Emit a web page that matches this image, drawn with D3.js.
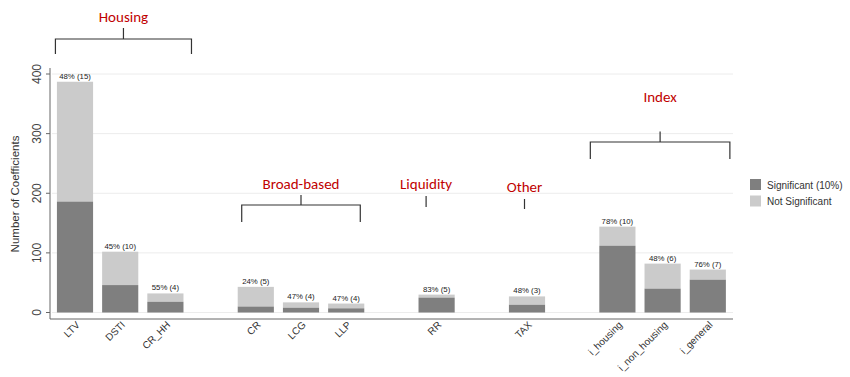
<!DOCTYPE html>
<html>
<head>
<meta charset="utf-8">
<script src="https://cdn.jsdelivr.net/npm/d3@7"></script>
<style>
  body { margin: 0; background: #fff; }
  svg { display: block; font-family: "Liberation Sans", Arial, sans-serif; }
</style>
</head>
<body>
<svg id="chart" width="850" height="377"></svg>
<script>
// ---- data ----
var categories = ["LTV", "DSTI", "CR_HH", "CR", "LCG", "LLP", "RR", "TAX", "i_housing", "i_non_housing", "i_general"]
var groups = ["Housing", "Housing", "Housing", "Broad-based", "Broad-based", "Broad-based", "Liquidity", "Other", "Index", "Index", "Index"]
var significant = [186, 46, 18, 10, 8, 7, 25, 13, 112, 40, 55]
var totals = [387, 102, 32, 43, 17, 15, 30, 27, 144, 82, 72]
var barLabels = ["48% (15)", "45% (10)", "55% (4)", "24% (5)", "47% (4)", "47% (4)", "83% (5)", "48% (3)", "78% (10)", "48% (6)", "76% (7)"]
var yTicks = [0, 100, 200, 300, 400]
var seriesNames = ["Significant (10%)", "Not Significant"]

var darkGrey = "#7f7f7f"
var lightGrey = "#cbcbcb"
var red = "#c00000"

// build the x domain: one empty slot between groups
var domain = []
categories.forEach(function(c, i){
    if (i > 0 && groups[i] != groups[i-1]) domain.push("gap" + i)
    domain.push(c)
})

var svg = d3.select("#chart")

var x = d3.scaleBand().domain(domain).range([52.4, 730.4]).paddingInner(0.2).paddingOuter(0.1)
var y = d3.scaleLinear().domain([0, 400]).range([312.5, 74])

// gridlines
svg.append("g").selectAll("line").data(yTicks).enter().append("line")
    .attr("x1", 52).attr("x2", 733)
    .attr("y1", d => y(d)).attr("y2", d => y(d))
    .attr("stroke", "#ececec").attr("stroke-width", 1)

// bars
var rows = categories.map(function(c, i){
    return {cat: c, sig: significant[i], total: totals[i], label: barLabels[i]}
})
var bars = svg.append("g")
bars.selectAll(".notsig").data(rows).enter().append("rect")
    .attr("x", d => x(d.cat)).attr("width", x.bandwidth())
    .attr("y", d => y(d.total)).attr("height", d => y(d.sig) - y(d.total))
    .attr("fill", lightGrey)
bars.selectAll(".sig").data(rows).enter().append("rect")
    .attr("x", d => x(d.cat)).attr("width", x.bandwidth())
    .attr("y", d => y(d.sig)).attr("height", d => y(0) - y(d.sig))
    .attr("fill", darkGrey)
bars.selectAll("text").data(rows).enter().append("text")
    .attr("x", d => x(d.cat) + x.bandwidth() / 2)
    .attr("y", d => y(d.total) - 3)
    .attr("text-anchor", "middle")
    .attr("font-size", "7.8px").attr("fill", "#222")
    .text(d => d.label)

// y axis
var yAxis = svg.append("g").attr("transform", "translate(50,0)")
    .call(d3.axisLeft(y).tickValues(yTicks).tickSize(4).tickSizeOuter(0))
yAxis.select(".domain").remove()
yAxis.append("line").attr("x1", 0).attr("x2", 0).attr("y1", 68).attr("y2", 319).attr("stroke", "#666")
yAxis.selectAll(".tick text")
    .attr("font-size", "12px").attr("fill", "#444")
    .attr("text-anchor", "middle")
    .attr("transform", "rotate(-90)")
    .attr("x", function(d){ return -y(d) })
    .attr("y", -9)
    .attr("dy", 0)
// the rotated labels need their own coordinates
yAxis.selectAll(".tick").attr("transform", null)
yAxis.selectAll(".tick line").attr("stroke", "#666").attr("y1", d => y(d)).attr("y2", d => y(d))

svg.append("text")
    .attr("transform", "translate(19,194) rotate(-90)")
    .attr("text-anchor", "middle")
    .attr("font-size", "11.5px").attr("fill", "#333")
    .text("Number of Coefficients")

// x axis
svg.append("line").attr("x1", 50).attr("x2", 733).attr("y1", 319).attr("y2", 319).attr("stroke", "#666")
svg.append("g").selectAll("text").data(categories).enter().append("text")
    .attr("transform", d => "translate(" + (x(d) + x.bandwidth() / 2 + 3) + ",323) rotate(-45)")
    .attr("text-anchor", "end")
    .attr("dy", "0.35em")
    .attr("font-size", "10px").attr("fill", "#333")
    .text(d => d)

// legend
var legend = svg.append("g")
seriesNames.forEach(function(name, i){
    legend.append("rect").attr("x", 750).attr("y", 179 + i * 16.5).attr("width", 11).attr("height", 11)
        .attr("fill", i == 0 ? darkGrey : lightGrey)
    legend.append("text").attr("x", 767).attr("y", 188.5 + i * 16.5)
        .attr("font-size", "10px").attr("fill", "#333").text(name)
})

// group annotations (drawn by hand in the original)
var notes = [
    {name: "Housing", first: "LTV", last: "CR_HH", dl: -1.5, dr: 8, lineY: 39, dropY: 54, stemTop: 28, labelY: 22},
    {name: "Broad-based", first: "CR", last: "LLP", dl: 4, dr: -4, lineY: 205, dropY: 222, stemTop: 195, labelY: 189},
    {name: "Liquidity", first: "RR", last: "RR", tick: -10.5, tickTop: 196, tickBottom: 207, labelY: 189},
    {name: "Other", first: "TAX", last: "TAX", tick: -2.5, tickTop: 199, tickBottom: 209, labelY: 192},
    {name: "Index", first: "i_housing", last: "i_general", dl: -9, dr: 4, lineY: 142, dropY: 159, stemTop: 131.5, labelY: 102}
]
var ann = svg.append("g").attr("stroke", "#333").attr("stroke-width", 1.2).attr("fill", "none")
notes.forEach(function(n){
    var mid
    if (n.tick !== undefined) {
        mid = x(n.first) + x.bandwidth() / 2 + n.tick
        ann.append("line").attr("x1", mid).attr("x2", mid).attr("y1", n.tickTop).attr("y2", n.tickBottom)
    } else {
        var l = x(n.first) + n.dl
        var r = x(n.last) + x.bandwidth() + n.dr
        mid = (l + r) / 2
        ann.append("path").attr("d", "M" + l + "," + n.dropY + "V" + n.lineY + "H" + r + "V" + n.dropY)
        ann.append("line").attr("x1", mid).attr("x2", mid).attr("y1", n.stemTop).attr("y2", n.lineY)
    }
    svg.append("text").attr("x", mid).attr("y", n.labelY)
        .attr("text-anchor", "middle")
        .attr("font-family", "Carlito, Lato, sans-serif").attr("font-size", "15px")
        .attr("fill", red).text(n.name)
})
</script>
</body>
</html>
